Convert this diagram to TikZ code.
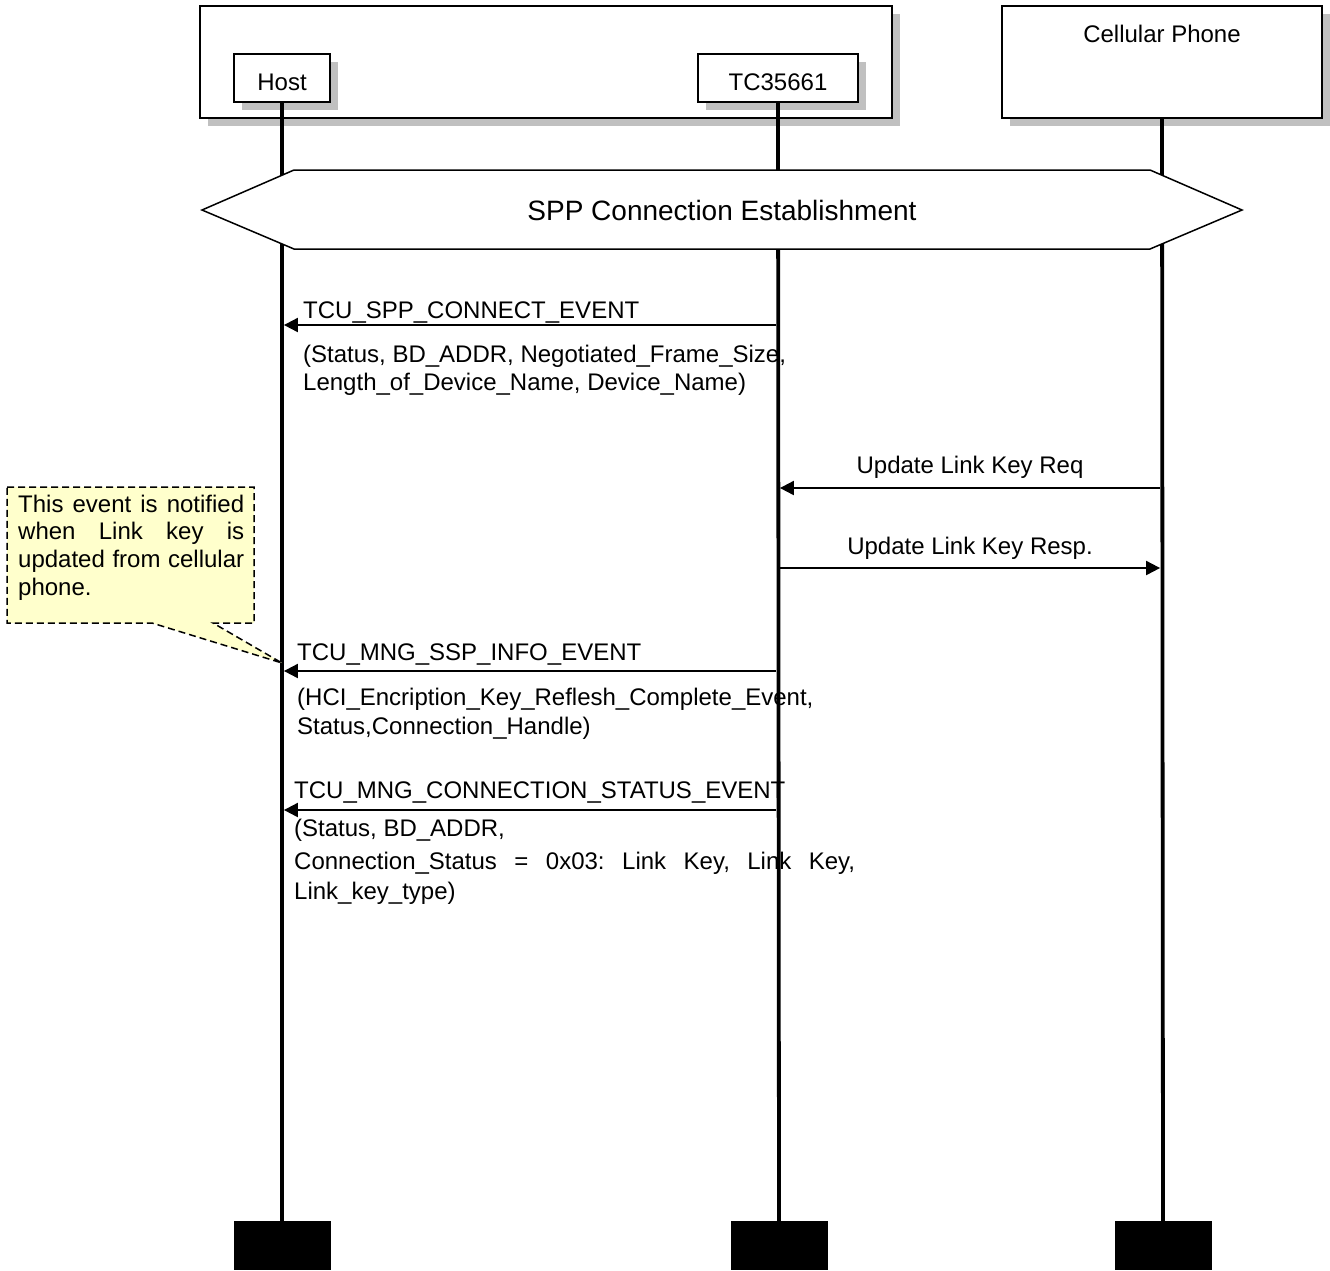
\documentclass[tikz,border=0pt]{standalone}
\usepackage{fontspec}
\setmainfont{Liberation Sans}
\usetikzlibrary{arrows.meta,shadows}
\definecolor{shadowgray}{HTML}{C0C0C0}
\definecolor{notefill}{HTML}{FFFFCC}
\frenchspacing
\begin{document}
\begin{tikzpicture}[x=1pt,y=-1pt,font=\fontsize{24}{29}\selectfont]
\tikzset{
 box/.style={draw, line width=1.5pt, fill=white, inner sep=0pt,
   general shadow={fill=shadowgray, shadow xshift=8pt, shadow yshift=-8pt}},
 lifeline/.style={line width=3.8pt},
 msg/.style={line width=2pt, -{Triangle[length=14pt,width=14pt]}, shorten >=1.9pt, shorten <=1.9pt},
 lbl/.style={anchor=base west, inner sep=0pt},
 clbl/.style={anchor=base, inner sep=0pt},
 endbox/.style={fill=black, minimum width=97pt, minimum height=49pt, inner sep=0pt, anchor=north},
 note/.style={fill=notefill, draw, line width=1.5pt, dash pattern=on 7pt off 4pt},
 hexa/.style={draw, line width=1.5pt, fill=white, line join=miter},
}
\useasboundingbox (0,0) rectangle (1330,1270);

% participant boxes
\node[box, minimum width=692pt, minimum height=112pt] (grp) at (546,62) {};
\node[box, minimum width=96pt, minimum height=48pt, text height=24pt, text depth=0pt] (host) at (282,78) {Host};
\node[box, minimum width=160pt, minimum height=48pt, text height=24pt, text depth=0pt] (tc) at (778,78) {TC35661};
\node[box, minimum width=320pt, minimum height=112pt] (phone) at (1162,62) {};
\node[clbl] (phonelbl) at (1162,42) {Cellular Phone};

% end boxes
\node[endbox] (hostend) at (282,1221) {};
\node[endbox] (tcend) at (779,1221) {};
\node[endbox] (phoneend) at (1163,1221) {};

% message rows
\coordinate (y1) at (0,325);
\coordinate (y2) at (0,488);
\coordinate (y3) at (0,568);
\coordinate (y4) at (0,671);
\coordinate (y5) at (0,810);

% message texts
\node[lbl] (m1) at (303,318) {TCU\_SPP\_CONNECT\_EVENT};
\node[lbl] (m1a) at (303,362) {(Status, BD\_ADDR, Negotiated\_Frame\_Size,};
\node[lbl] (m1b) at (303,390) {Length\_of\_Device\_Name, Device\_Name)};

\node[clbl] (m2) at (970,473) {Update Link Key Req};
\node[clbl] (m3) at (970,554) {Update Link Key Resp.};

\node[lbl] (m4) at (297,660) {TCU\_MNG\_SSP\_INFO\_EVENT};
\node[lbl] (m4a) at (297,705) {(HCI\_Encription\_Key\_Reflesh\_Complete\_Event,};
\node[lbl] (m4b) at (297,734) {Status,Connection\_Handle)};

\node[lbl] (m5) at (294,798) {TCU\_MNG\_CONNECTION\_STATUS\_EVENT};
\node[lbl] (m5a) at (294,836) {(Status, BD\_ADDR,};
\node[lbl] (m5b) at (294,869) {\makebox[561pt][s]{Connection\_Status = 0x03: Link Key, Link Key,}};
\node[lbl] (m5c) at (294,899) {Link\_key\_type)};

% arrows
\draw[msg] (tc |- y1) -- (host |- y1);
\draw[msg] (phone |- y2) -- (tc |- y2);
\draw[msg] (tc |- y3) -- (phone |- y3);
\draw[msg] (tc |- y4) -- (host |- y4);
\draw[msg] (tc |- y5) -- (host |- y5);

% lifelines
\draw[lifeline] (host.south) -- (hostend.north);
\draw[lifeline] (tc.south) -- (tcend.north);
\draw[lifeline] (phone.south) -- (phoneend.north);

% SPP connection establishment
\draw[hexa] (202,210) -- (294,170) -- (1150,170) -- (1242,210) -- (1150,249) -- (294,249) -- cycle;
\node[font=\fontsize{28}{33}\selectfont] (spp) at (722,210) {SPP Connection Establishment};

% callout
\draw[note] (7,487) -- (254,487) -- (254,623) -- (213,623) -- (282,663) -- (152,623) -- (7,623) -- cycle;
\node[lbl] (n1) at (18,512) {\makebox[226pt][s]{This event is notified}};
\node[lbl] (n2) at (18,539) {\makebox[226pt][s]{when Link key is}};
\node[lbl] (n3) at (18,567) {\makebox[226pt][s]{updated from cellular}};
\node[lbl] (n4) at (18,595) {phone.};
\end{tikzpicture}
\end{document}
